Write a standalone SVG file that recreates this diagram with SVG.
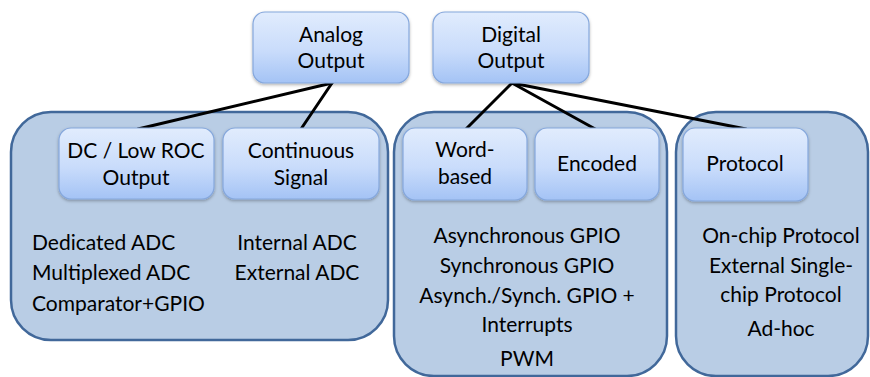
<svg xmlns="http://www.w3.org/2000/svg" width="870" height="377" viewBox="0 0 870 377">
  <defs>
    <linearGradient id="boxFill" x1="0" y1="0" x2="0" y2="1">
      <stop offset="0" stop-color="#e1ecfd"/>
      <stop offset="0.55" stop-color="#c9dcfb"/>
      <stop offset="1" stop-color="#a4c3f5"/>
    </linearGradient>
    <filter id="shadow" x="-10%" y="-10%" width="120%" height="130%">
      <feDropShadow dx="0" dy="1.5" stdDeviation="1.5" flood-color="#000" flood-opacity="0.3"/>
    </filter>
    <style>
      .group { fill: #b9cde5; stroke: #41689a; stroke-width: 2.5; }
      .box { fill: url(#boxFill); stroke: #85a7dc; stroke-width: 1.2; filter: url(#shadow); }
      .link { stroke: #000; stroke-width: 3; fill: none; stroke-linecap: round; }
      text { font-family: Lato, "Open Sans", "Liberation Sans", sans-serif; font-size: 21px; fill: #000; }
      .c { text-anchor: middle; }
    </style>
  </defs>

  <rect width="870" height="377" fill="#fff"/>

  <!-- category panels -->
  <g id="analog-panel">
    <rect class="group" x="11" y="112" width="377" height="228" rx="40"/>
    <text x="32" y="250">Dedicated ADC</text>
    <text x="32" y="280">Multiplexed ADC</text>
    <text x="32" y="311">Comparator+GPIO</text>
    <text class="c" x="297" y="250">Internal ADC</text>
    <text class="c" x="297" y="280">External ADC</text>
  </g>

  <g id="digital-panel">
    <rect class="group" x="394" y="112" width="273" height="264" rx="40"/>
    <text class="c" x="527" y="243">Asynchronous GPIO</text>
    <text class="c" x="527" y="273">Synchronous GPIO</text>
    <text class="c" x="527" y="303">Asynch./Synch. GPIO +</text>
    <text class="c" x="527" y="332">Interrupts</text>
    <text class="c" x="527" y="366">PWM</text>
  </g>

  <g id="protocol-panel">
    <rect class="group" x="676" y="112" width="192" height="264" rx="40"/>
    <text class="c" x="781" y="243">On-chip Protocol</text>
    <text class="c" x="781" y="273">External Single-</text>
    <text class="c" x="781" y="302">chip Protocol</text>
    <text class="c" x="781" y="336">Ad-hoc</text>
  </g>

  <!-- connectors -->
  <g id="connectors">
    <line class="link" x1="332" y1="83" x2="138" y2="129"/>
    <line class="link" x1="332" y1="83" x2="301" y2="129"/>
    <line class="link" x1="512" y1="83" x2="466" y2="129"/>
    <line class="link" x1="512" y1="83" x2="597" y2="130"/>
    <line class="link" x1="512" y1="83" x2="746" y2="129"/>
  </g>

  <!-- top level -->
  <g id="analog-output">
    <rect class="box" x="253" y="12" width="156" height="71" rx="12"/>
    <text class="c" x="331" y="42">Analog</text>
    <text class="c" x="331" y="68">Output</text>
  </g>

  <g id="digital-output">
    <rect class="box" x="433" y="12" width="156" height="71" rx="12"/>
    <text class="c" x="511" y="42">Digital</text>
    <text class="c" x="511" y="68">Output</text>
  </g>

  <!-- second level -->
  <g id="dc-low-roc">
    <rect class="box" x="59" y="128" width="155" height="71" rx="12"/>
    <text class="c" x="136" y="158">DC / Low ROC</text>
    <text class="c" x="136" y="185">Output</text>
  </g>

  <g id="continuous-signal">
    <rect class="box" x="223" y="128" width="156" height="71" rx="12"/>
    <text class="c" x="301" y="158">Continuous</text>
    <text class="c" x="301" y="185">Signal</text>
  </g>

  <g id="word-based">
    <rect class="box" x="403" y="128" width="124" height="72" rx="12"/>
    <text class="c" x="465" y="157">Word-</text>
    <text class="c" x="465" y="184">based</text>
  </g>

  <g id="encoded">
    <rect class="box" x="535" y="128" width="124" height="72" rx="12"/>
    <text class="c" x="597" y="171">Encoded</text>
  </g>

  <g id="protocol">
    <rect class="box" x="683" y="128" width="125" height="73" rx="12"/>
    <text class="c" x="745" y="171">Protocol</text>
  </g>
</svg>
